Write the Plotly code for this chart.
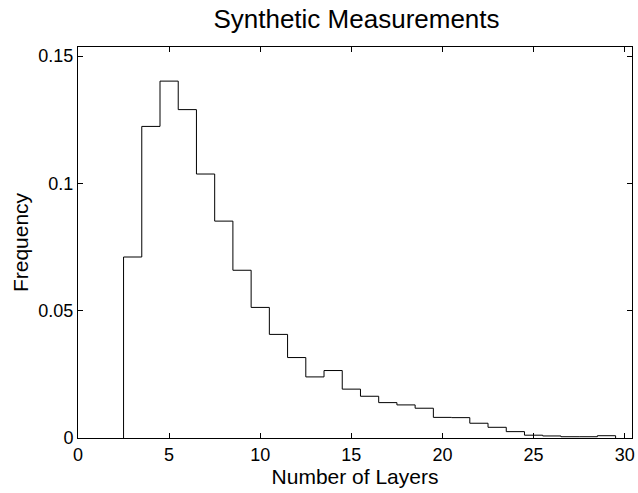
import plotly.graph_objects as go

# Data: histogram bins (centers, width 1) and normalized frequency
bin_centers = [3, 4, 5, 6, 7, 8, 9, 10, 11, 12, 13, 14, 15, 16, 17, 18, 19, 20,
               21, 22, 23, 24, 25, 26, 27, 28, 29]
frequency = [0.0711, 0.1224, 0.1402, 0.1290, 0.1037, 0.0852, 0.0659, 0.0513,
             0.0407, 0.0316, 0.0240, 0.0265, 0.0192, 0.0164, 0.0139, 0.0130,
             0.0117, 0.0081, 0.0080, 0.0058, 0.0042, 0.0025, 0.0011, 0.0008,
             0.0005, 0.0005, 0.0009]
bin_width = 1.0

x_ticks = [0, 5, 10, 15, 20, 25, 30]
y_ticks = [0, 0.05, 0.1, 0.15]
y_tick_labels = ["0", "0.05", "0.1", "0.15"]

# Build stairs outline from the bins
xs = [bin_centers[0] - bin_width / 2]
ys = [0]
for c, f in zip(bin_centers, frequency):
    xs.append(c - bin_width / 2)
    ys.append(f)
xs.append(bin_centers[-1] + bin_width / 2)
ys.append(frequency[-1])
xs.append(bin_centers[-1] + bin_width / 2)
ys.append(0)

fig = go.Figure()
fig.add_trace(go.Scatter(x=xs, y=ys, mode="lines", line=dict(color="black", width=1, shape="hv"),
                         showlegend=False, hoverinfo="skip"))

font_family = "Liberation Sans, Arial, Helvetica, sans-serif"
fig.update_layout(
    width=638, height=493,
    margin=dict(l=78, r=3, t=47, b=55),
    paper_bgcolor="white", plot_bgcolor="white",
    font=dict(family=font_family, color="black", size=18),
    title=dict(text="Synthetic Measurements", x=(78 + 635) / 2 / 638, xanchor="center",
               y=1 - 19 / 493, yanchor="middle", yref="container",
               font=dict(size=26, family=font_family, color="black")),
    xaxis=dict(range=[0, 30.4], tickvals=x_ticks, ticktext=[str(v) for v in x_ticks],
               ticks="inside", ticklen=5, tickcolor="black", showline=True, linecolor="black",
               linewidth=1, mirror="ticks", showgrid=False, zeroline=False,
               title=dict(text="Number of Layers", font=dict(size=21), standoff=0),
               tickfont=dict(size=18)),
    yaxis=dict(range=[0, 0.1536], tickvals=y_ticks, ticktext=y_tick_labels,
               ticks="inside", ticklen=5, tickcolor="black", showline=True, linecolor="black",
               linewidth=1, mirror="ticks", showgrid=False, zeroline=False,
               title=dict(text="Frequency", font=dict(size=21), standoff=4),
               tickfont=dict(size=18)),
)

fig.write_html("out.html")
